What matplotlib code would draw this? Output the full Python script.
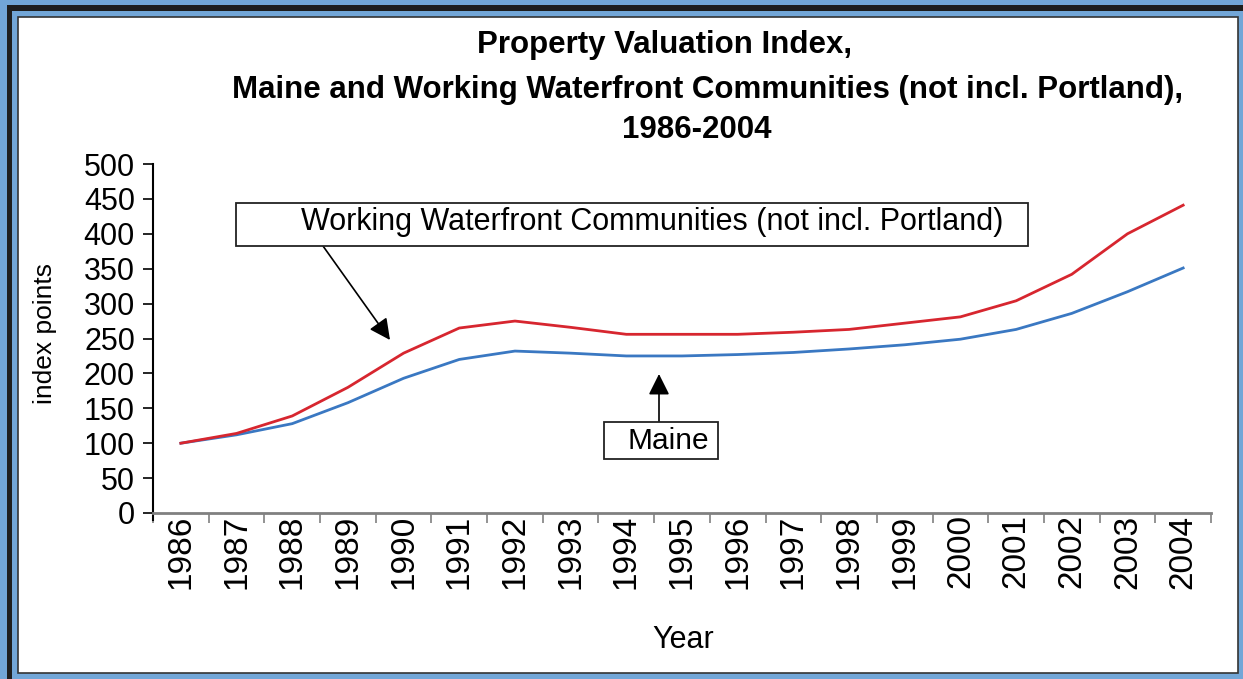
import numpy as np
import matplotlib.pyplot as plt
from matplotlib.patches import Rectangle

plt.rcParams['font.family'] = ['Liberation Sans', 'DejaVu Sans']

years = [str(y) for y in range(1986, 2005)]
waterfront = [100, 114, 139, 180, 229, 265, 275, 266, 256, 256, 256, 259, 263, 272, 281, 304, 342, 400, 441]
maine = [100, 112, 128, 158, 193, 220, 232, 229, 225, 225, 227, 230, 235, 241, 249, 263, 286, 317, 351]

W, H = 1243, 679
fig = plt.figure(figsize=(W / 100, H / 100), dpi=100)
fig.patch.set_facecolor('#72a6d7')

def px(x0, y0, x1, y1, **kw):
    # rectangle given in image pixels (y from top)
    r = Rectangle((x0 / W, 1 - y1 / H), (x1 - x0) / W, (y1 - y0) / H,
                  transform=fig.transFigure, **kw)
    fig.patches.append(r)

# frame
px(7, 5, W + 5, H + 5, facecolor='#1e1e1e', edgecolor='none', zorder=-10)
px(12, 11, W + 5, H + 5, facecolor='#72a6d7', edgecolor='none', zorder=-9)
px(18, 17, 1238, 673, facecolor='white', edgecolor='#333333', lw=1.2, zorder=-8)

ax = fig.add_axes([153 / W, 1 - 513 / H, (1211 - 153) / W, (513 - 164) / H])
ax.set_facecolor('none')
x = np.arange(len(years))
ax.plot(x, maine, color='#3a78c2', lw=2.0)
ax.plot(x, waterfront, color='#d7262f', lw=2.0)

ax.set_xlim(-0.5, len(years) - 0.5)
ax.set_ylim(0, 500)
ax.set_yticks(range(0, 501, 50))
ax.set_xticks(np.arange(-0.5, len(years), 1), minor=False)
ax.set_xticklabels([])
ax.set_xticks(x, minor=True)
ax.set_xticklabels(years, minor=True, rotation=90, fontsize=24)
ax.tick_params(axis='x', which='minor', length=0, pad=1)
ax.tick_params(axis='x', which='major', length=7, color='#808080', width=1.2)
ax.tick_params(axis='y', length=7, width=1.2, labelsize=22, pad=6)
for s in ['top', 'right']:
    ax.spines[s].set_visible(False)
ax.spines['left'].set_linewidth(1.5)
ax.spines['left'].set_bounds(-10, 500)
ax.spines['bottom'].set_color('#808080')
ax.spines['bottom'].set_linewidth(2)

fig.text(45 / W, 1 - 333 / H, 'index points', rotation=90, fontsize=19,
         ha='center', va='center')
fig.text(683 / W, 1 - 640 / H, 'Year', fontsize=22, ha='center', va='center')

tkw = dict(fontsize=22.5, fontweight='bold', ha='center', va='center')
fig.text(665 / W, 1 - 45 / H, 'Property Valuation Index,', **tkw)
fig.text(708 / W, 1 - 90 / H, 'Maine and Working Waterfront Communities (not incl. Portland),', **tkw)
fig.text(697 / W, 1 - 130 / H, '1986-2004', **tkw)

# callouts
px(236, 203, 1028, 246, facecolor='white', edgecolor='#222222', lw=1.3, zorder=5)
fig.text(652 / W, 1 - 222 / H, 'Working Waterfront Communities (not incl. Portland)',
         fontsize=22, ha='center', va='center', zorder=6)
px(604, 422, 718, 459, facecolor='white', edgecolor='#222222', lw=1.3, zorder=5)
fig.text(668 / W, 1 - 441 / H, 'Maine', fontsize=21.5, ha='center', va='center', zorder=6)

arrow = dict(arrowstyle='-|>', mutation_scale=32, color='black', lw=1.2,
             shrinkA=0, shrinkB=0)
a1 = plt.annotate('', xy=(390 / W, 1 - 340 / H), xytext=(323 / W, 1 - 246 / H),
                  xycoords='figure fraction', arrowprops=arrow)
a2 = plt.annotate('', xy=(659 / W, 1 - 374 / H), xytext=(659 / W, 1 - 422 / H),
                  xycoords='figure fraction', arrowprops=arrow)

fig.savefig('out.png', dpi=100, facecolor=fig.get_facecolor())
